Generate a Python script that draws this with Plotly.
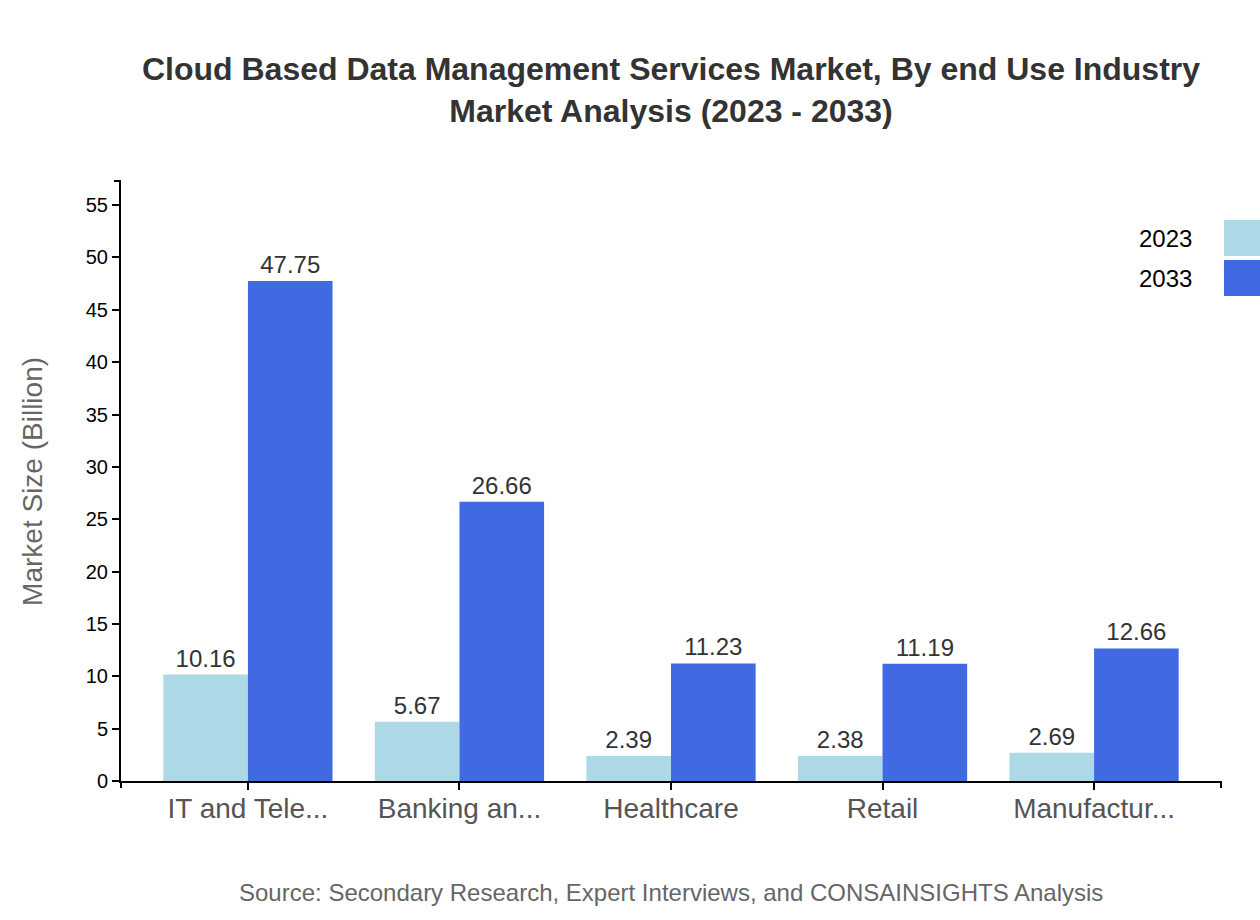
import plotly.graph_objects as go

categories = ["IT and Tele...", "Banking an...", "Healthcare", "Retail", "Manufactur..."]
series_names = ["2023", "2033"]
values_2023 = [10.16, 5.67, 2.39, 2.38, 2.69]
values_2033 = [47.75, 26.66, 11.23, 11.19, 12.66]
series_colors = ["#ADD8E6", "#4169E1"]
y_ticks = [0, 5, 10, 15, 20, 25, 30, 35, 40, 45, 50, 55]

title_text = ("Cloud Based Data Management Services Market, By end Use Industry"
              "<br>Market Analysis (2023 - 2033)")
y_title = "Market Size (Billion)"
source_text = "Source: Secondary Research, Expert Interviews, and CONSAINSIGHTS Analysis"

FONT = "Liberation Sans, Arial, sans-serif"
y_max = max(values_2033) * 1.2

fig = go.Figure()
for name, vals, col in zip(series_names, [values_2023, values_2033], series_colors):
    fig.add_trace(go.Bar(
        x=categories, y=vals, name=name, marker=dict(color=col, line=dict(width=0)),
        text=[f"{v:.2f}" for v in vals], textposition="outside",
        textfont=dict(size=24, color="#333333", family=FONT),
        cliponaxis=False, showlegend=False,
    ))

annotations = [
    dict(text=y_title, xref="paper", yref="paper", x=-0.081, y=0.5, textangle=-90,
         showarrow=False, xanchor="center", yanchor="middle",
         font=dict(size=28, color="#666666", family=FONT)),
    dict(text=source_text, xref="paper", yref="paper", x=0.5, y=-0.185,
         showarrow=False, xanchor="center", yanchor="middle",
         font=dict(size=24, color="#666666", family=FONT)),
]
shapes = []
# manual legend (swatch to the right of text)
for i, (name, col) in enumerate(zip(series_names, series_colors)):
    top = 0.935 - i * 0.0667
    shapes.append(dict(type="rect", xref="paper", yref="paper", x0=1.0027, x1=1.04,
                       y0=top - 0.06, y1=top, fillcolor=col, line=dict(width=0)))
    annotations.append(dict(text=name, xref="paper", yref="paper", x=0.9755, y=top - 0.03,
                            showarrow=False, xanchor="right", yanchor="middle",
                            font=dict(size=24, color="#000000", family=FONT)))
# outer ticks (d3 style)
for xp in [0, 1]:
    shapes.append(dict(type="line", xref="paper", yref="paper", x0=xp, x1=xp,
                       ysizemode="pixel", yanchor=0, y0=0, y1=-7,
                       line=dict(color="black", width=2)))
shapes.append(dict(type="line", xref="paper", yref="paper", y0=1, y1=1,
                   xsizemode="pixel", xanchor=0, x0=0, x1=-7,
                   line=dict(color="black", width=2)))

fig.update_layout(
    width=1260, height=920,
    margin=dict(l=121, r=39, t=181, b=139),
    paper_bgcolor="white", plot_bgcolor="white",
    barmode="group", bargap=0.2, bargroupgap=0,
    title=dict(text=title_text, x=0.5, xref="paper", xanchor="center",
               y=1 - 80 / 920, yref="container", yanchor="top",
               font=dict(size=32, color="#333333", family=FONT, weight="bold")),
    xaxis=dict(range=[-0.6, 4.6], showline=True, linecolor="black", linewidth=2,
               ticks="outside", ticklen=7, tickwidth=2, tickcolor="black",
               tickfont=dict(size=28, color="#555555", family=FONT),
               ticklabelstandoff=-6,
               showgrid=False, zeroline=False),
    yaxis=dict(range=[0, y_max], showline=True, linecolor="black", linewidth=2,
               tickmode="array", tickvals=y_ticks, ticks="outside", ticklen=7,
               tickwidth=2, tickcolor="black",
               tickfont=dict(size=20, color="#000000", family=FONT),
               showgrid=False, zeroline=False),
    annotations=annotations, shapes=shapes,
)

fig.write_html("out.html", config={"displayModeBar": False},
               post_script="document.body.style.margin='0';")
